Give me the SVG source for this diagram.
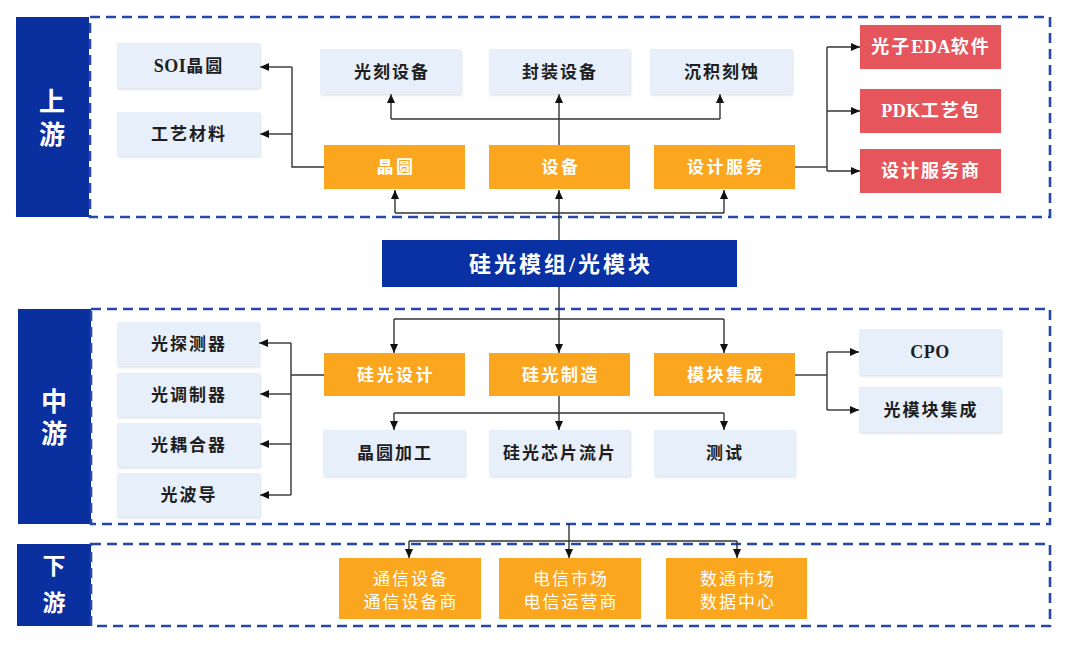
<svg xmlns="http://www.w3.org/2000/svg" width="1080" height="649" viewBox="0 0 1080 649">
<style>
.bg{fill:#ffffff}
.bar{fill:#0a2f9f}
.dash{fill:none;stroke:#2447aa;stroke-width:2.6;stroke-dasharray:10 6}
.lb{fill:#e7effb;filter:url(#sh)}
.or{fill:#faa61f}
.rd{fill:#e6555b}
.main{fill:#0a31a3}
.t{font-family:"Liberation Serif","Noto Sans CJK SC",serif;font-weight:bold;text-anchor:middle;dominant-baseline:central}
.dk{fill:#1e1e1e;font-size:17px;letter-spacing:2px}
.wt{fill:#ffffff;font-size:17px;letter-spacing:2.5px}
.rt{fill:#ffffff;font-size:18px;letter-spacing:2px}
.bt{fill:#ffffff;font-size:26px}
.mt{fill:#ffffff;font-size:22px;letter-spacing:3px}
.bw{fill:#ffffff;font-size:17px;font-weight:normal;letter-spacing:2px}
.lat{letter-spacing:0.5px;font-size:18px}
.ln{fill:none;stroke:#333333;stroke-width:1.4}
.ar{fill:none;stroke:#333333;stroke-width:1.4;marker-end:url(#ah)}
</style>
<defs>
<marker id="ah" markerUnits="userSpaceOnUse" markerWidth="10" markerHeight="10" viewBox="0 0 10 10" refX="9" refY="5" orient="auto">
<path d="M0,1 L9,5 L0,9 Z" fill="#111111"/>
</marker>
<filter id="sh" x="-10%" y="-10%" width="125%" height="130%">
<feDropShadow dx="1" dy="1.5" stdDeviation="1.2" flood-color="#9aa6b8" flood-opacity="0.35"/>
</filter>
</defs>
<rect class="bg" x="0" y="0" width="1080" height="649"/>

<g id="upstream-section">
<rect class="bar" x="16" y="17" width="73" height="200"/>
<text class="t bt" x="52" y="102">上</text>
<text class="t bt" x="52" y="135">游</text>
<rect class="dash" x="90" y="17" width="960" height="200"/>
</g>
<g id="midstream-section">
<rect class="bar" x="18" y="309" width="73" height="215"/>
<text class="t bt" x="54" y="402">中</text>
<text class="t bt" x="54" y="434">游</text>
<rect class="dash" x="91" y="309" width="959" height="215"/>
</g>
<g id="downstream-section">
<rect class="bar" x="17" y="544" width="74" height="82"/>
<text class="t bt" style="font-size:23px" x="54" y="566">下</text>
<text class="t bt" style="font-size:23px" x="54" y="603">游</text>
<rect class="dash" x="91" y="544" width="959" height="82"/>
</g>

<g id="connectors">
<!-- upstream -->
<polyline class="ar" points="559,240 559,190"/>
<polyline class="ln" points="395,213 724,213"/>
<polyline class="ar" points="395,213 395,190"/>
<polyline class="ar" points="724,213 724,190"/>
<polyline class="ar" points="559,145 559,94"/>
<polyline class="ln" points="391,119 720,119"/>
<polyline class="ar" points="391,119 391,94"/>
<polyline class="ar" points="720,119 720,94"/>
<polyline class="ln" points="324,167 292,167 292,67"/>
<polyline class="ar" points="292,67 260,67"/>
<polyline class="ar" points="292,134 260,134"/>
<polyline class="ln" points="795,167 827,167"/>
<polyline class="ln" points="827,47 827,171"/>
<polyline class="ar" points="827,47 860,47"/>
<polyline class="ar" points="827,111 860,111"/>
<polyline class="ar" points="827,171 860,171"/>
<!-- midstream -->
<polyline class="ar" points="559,287 559,353"/>
<polyline class="ln" points="394,319 724,319"/>
<polyline class="ar" points="394,319 394,353"/>
<polyline class="ar" points="724,319 724,353"/>
<polyline class="ar" points="559,396 559,430"/>
<polyline class="ln" points="394,413 724,413"/>
<polyline class="ar" points="394,413 394,430"/>
<polyline class="ar" points="724,413 724,430"/>
<polyline class="ln" points="324,375 291,375"/>
<polyline class="ln" points="291,343 291,495"/>
<polyline class="ar" points="291,343 259,343"/>
<polyline class="ar" points="291,394 260,394"/>
<polyline class="ar" points="291,444 260,444"/>
<polyline class="ar" points="291,495 260,495"/>
<polyline class="ln" points="795,375 827,375"/>
<polyline class="ln" points="827,352 827,410"/>
<polyline class="ar" points="827,352 859,352"/>
<polyline class="ar" points="827,410 859,410"/>
<!-- downstream -->
<polyline class="ln" points="569,524 569,541"/>
<polyline class="ln" points="409,541 737,541"/>
<polyline class="ar" points="409,541 409,558"/>
<polyline class="ar" points="569,541 569,558"/>
<polyline class="ar" points="737,541 737,558"/>
</g>

<g id="n-soi"><rect class="lb" x="117" y="43" width="143" height="45"/><text class="t dk" x="189" y="66"><tspan class="lat">SOI</tspan>晶圆</text></g>
<g id="n-gycl"><rect class="lb" x="117" y="112" width="143" height="44"/><text class="t dk" x="189" y="134">工艺材料</text></g>
<g id="n-gksb"><rect class="lb" x="320" y="49" width="141" height="45"/><text class="t dk" x="392" y="72">光刻设备</text></g>
<g id="n-fzsb"><rect class="lb" x="489" y="49" width="141" height="45"/><text class="t dk" x="560" y="72">封装设备</text></g>
<g id="n-cjks"><rect class="lb" x="650" y="49" width="142" height="45"/><text class="t dk" x="722" y="72">沉积刻蚀</text></g>
<g id="n-jy"><rect class="or" x="324" y="145" width="141" height="44"/><text class="t wt" x="396" y="167">晶圆</text></g>
<g id="n-sb"><rect class="or" x="489" y="145" width="141" height="44"/><text class="t wt" x="561" y="167">设备</text></g>
<g id="n-sjfw"><rect class="or" x="654" y="145" width="141" height="44"/><text class="t wt" x="726" y="167">设计服务</text></g>
<g id="n-eda"><rect class="rd" x="860" y="25" width="141" height="44"/><text class="t rt" x="931" y="47">光子<tspan class="lat">EDA</tspan>软件</text></g>
<g id="n-pdk"><rect class="rd" x="860" y="89" width="141" height="44"/><text class="t rt" x="931" y="111"><tspan class="lat">PDK</tspan>工艺包</text></g>
<g id="n-sjfws"><rect class="rd" x="860" y="149" width="141" height="44"/><text class="t rt" x="931" y="171">设计服务商</text></g>

<g id="n-main"><rect class="main" x="382" y="240" width="355" height="47"/><text class="t mt" x="561" y="264">硅光模组/光模块</text></g>

<g id="n-gtcq"><rect class="lb" x="117" y="322" width="142" height="44"/><text class="t dk" x="189" y="344">光探测器</text></g>
<g id="n-gtzq"><rect class="lb" x="117" y="373" width="143" height="44"/><text class="t dk" x="189" y="395">光调制器</text></g>
<g id="n-gohq"><rect class="lb" x="117" y="423" width="143" height="44"/><text class="t dk" x="189" y="445">光耦合器</text></g>
<g id="n-gbd"><rect class="lb" x="117" y="473" width="143" height="44"/><text class="t dk" x="189" y="495">光波导</text></g>
<g id="n-ggsj"><rect class="or" x="324" y="353" width="141" height="43"/><text class="t wt" x="396" y="375">硅光设计</text></g>
<g id="n-ggzz"><rect class="or" x="489" y="353" width="141" height="43"/><text class="t wt" x="561" y="375">硅光制造</text></g>
<g id="n-mkjc"><rect class="or" x="654" y="353" width="141" height="43"/><text class="t wt" x="726" y="375">模块集成</text></g>
<g id="n-jyjg"><rect class="lb" x="323" y="430" width="142" height="46"/><text class="t dk" x="395" y="453">晶圆加工</text></g>
<g id="n-ggxp"><rect class="lb" x="489" y="430" width="141" height="46"/><text class="t dk" x="560" y="453">硅光芯片流片</text></g>
<g id="n-cs"><rect class="lb" x="654" y="430" width="141" height="46"/><text class="t dk" x="725" y="453">测试</text></g>
<g id="n-cpo"><rect class="lb" x="859" y="329" width="142" height="46"/><text class="t dk" x="930" y="352"><tspan class="lat">CPO</tspan></text></g>
<g id="n-gmkjc"><rect class="lb" x="859" y="387" width="142" height="45"/><text class="t dk" x="931" y="410">光模块集成</text></g>

<g id="n-txsb"><rect class="or" x="339" y="558" width="142" height="61"/><text class="t bw" x="411" y="579">通信设备</text><text class="t bw" x="411" y="602">通信设备商</text></g>
<g id="n-dxsc"><rect class="or" x="499" y="558" width="142" height="61"/><text class="t bw" x="571" y="579">电信市场</text><text class="t bw" x="571" y="602">电信运营商</text></g>
<g id="n-stsc"><rect class="or" x="666" y="558" width="141" height="61"/><text class="t bw" x="738" y="579">数通市场</text><text class="t bw" x="738" y="602">数据中心</text></g>
</svg>
